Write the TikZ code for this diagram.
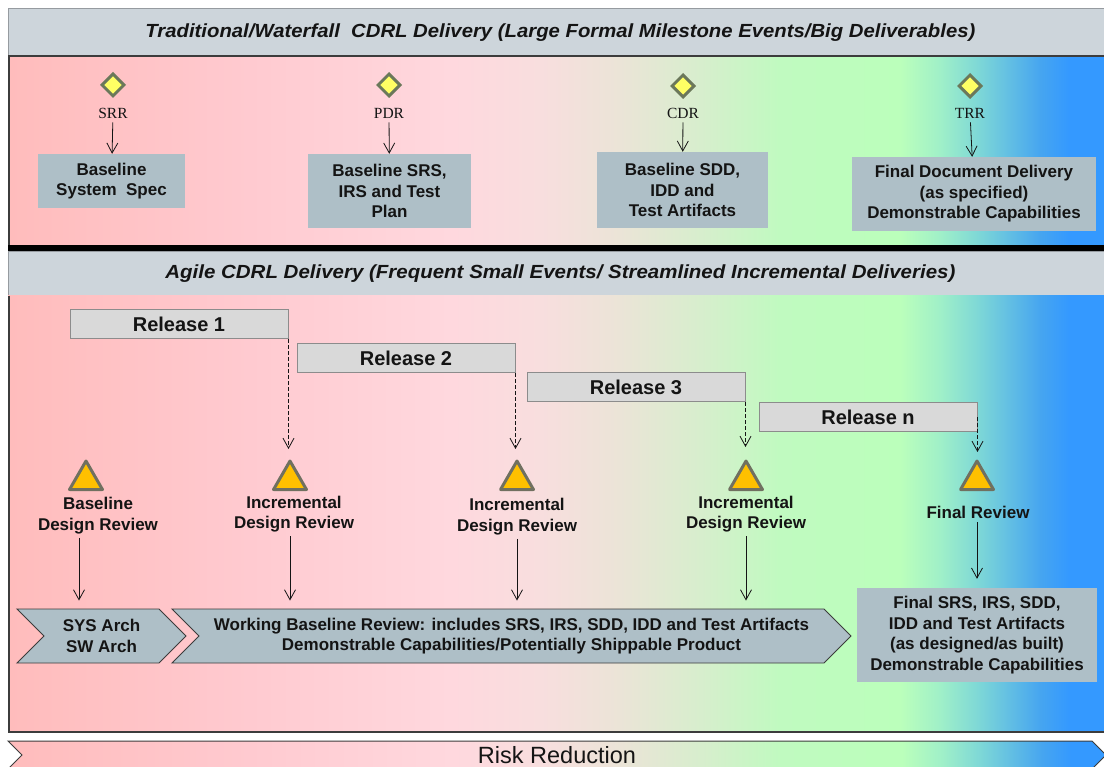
\documentclass[tikz,border=0pt]{standalone}
\usepackage{fontspec}
\setmainfont{Liberation Sans}
\newfontfamily\labelserif{Liberation Serif}
\usetikzlibrary{arrows.meta,shapes.geometric,shapes.symbols}

% colours
\definecolor{hdrfill}{RGB}{205,213,219}
\definecolor{hdredge}{RGB}{150,155,160}
\definecolor{boxfill}{RGB}{174,191,199}
\definecolor{relfill}{RGB}{217,217,217}
\definecolor{reledge}{RGB}{140,140,140}
\definecolor{trifill}{RGB}{255,192,0}
\definecolor{triedge}{RGB}{112,112,96}
\definecolor{diafill}{RGB}{255,255,100}
\definecolor{diaedge}{RGB}{107,120,90}
\definecolor{txt}{RGB}{20,20,20}
\definecolor{frame}{RGB}{60,60,60}

% risk gradient stops (pink -> beige -> green -> blue)
\definecolor{g0}{RGB}{255,188,188}
\definecolor{g1}{RGB}{255,202,208}
\definecolor{g2}{RGB}{255,216,222}
\definecolor{g3}{RGB}{248,222,222}
\definecolor{g4}{RGB}{235,228,215}
\definecolor{g5}{RGB}{215,238,205}
\definecolor{g6}{RGB}{192,250,192}
\definecolor{g7}{RGB}{187,255,187}
\definecolor{g8}{RGB}{160,240,200}
\definecolor{g9}{RGB}{125,215,215}
\definecolor{g10}{RGB}{70,165,240}
\definecolor{g11}{RGB}{52,153,255}
\pgfdeclarehorizontalshading{riskgrad}{100bp}{color(0bp)=(g0); color(25bp)=(g0);
  color(36bp)=(g1); color(45.2bp)=(g2); color(49.3bp)=(g3); color(52.9bp)=(g4);
  color(56.6bp)=(g5); color(60.2bp)=(g6); color(65.7bp)=(g7); color(67.5bp)=(g8);
  color(69.3bp)=(g9); color(72.1bp)=(g10); color(73.4bp)=(g11); color(100bp)=(g11)}

\begin{document}
\begin{tikzpicture}[x=1pt,y=-1pt,
  hdr/.style={fill=hdrfill, draw=hdredge, line width=0.8pt, inner sep=0pt,
    font=\bfseries\itshape\fontsize{19}{22}\selectfont, text=txt},
  milestone/.style={diamond, draw=diaedge, fill=diafill, line width=3pt,
    minimum size=23pt, inner sep=0pt},
  msname/.style={font=\labelserif\fontsize{15.5}{18}\selectfont, text=txt, inner sep=2pt},
  deliv/.style={fill=boxfill, inner sep=0pt, align=center, text=txt,
    font=\bfseries\fontsize{17}{20.5}\selectfont},
  release/.style={fill=relfill, draw=reledge, line width=1pt, inner sep=0pt,
    minimum width=218pt, minimum height=29pt, text=txt,
    font=\bfseries\fontsize{20}{22}\selectfont},
  review/.style={regular polygon, regular polygon sides=3, draw=triedge, fill=trifill,
    line width=3pt, line join=round, minimum size=38pt, inner sep=0pt},
  revname/.style={align=center, text=txt, inner sep=1pt,
    font=\bfseries\fontsize{17}{20.5}\selectfont},
  chev/.style={signal, signal from=west, signal to=east, signal pointer angle=90,
    fill=boxfill, draw=frame, line width=0.9pt, inner sep=0pt, minimum height=54pt,
    align=center, text=txt, font=\bfseries\fontsize{17}{20.5}\selectfont},
  arr/.style={-{Straight Barb[length=10pt,width=11pt]}, line width=0.8pt, draw=txt},
  darr/.style={arr, dash pattern=on 3.5pt off 2.5pt}
]
\useasboundingbox (0,0) rectangle (1104,767);
\fill[white] (0,0) rectangle (1104,767);

% ---------------- traditional / waterfall band ----------------
\node[hdr, minimum width=1096pt, minimum height=48pt, anchor=north west] (h1) at (8,8)
  {\hspace*{8pt}\resizebox{830pt}{\height}{Traditional/Waterfall\ \ CDRL Delivery (Large Formal Milestone Events/Big\ Deliverables)}};
\draw[frame, line width=2.5pt] (8,56) -- (1104,56);
\shade[shading=riskgrad] (8,57.5) rectangle (1104,245);
\draw[frame, line width=1.5pt] (8.75,57) -- (8.75,245);

\node[milestone] (d1) at (113,85) {};
\node[milestone] (d2) at (389,85) {};
\node[milestone] (d3) at (683,86) {};
\node[milestone] (d4) at (970,86) {};
\node[msname] (s1) at (113,113) {SRR};
\node[msname] (s2) at (389,113) {PDR};
\node[msname] (s3) at (683,113) {CDR};
\node[msname] (s4) at (970,113) {TRR};

\node[deliv, minimum width=147pt, minimum height=54pt] (b1) at (111.5,181)
  {Baseline\\System\ \ Spec};
\node[deliv, minimum width=163pt, minimum height=74pt] (b2) at (389.5,191)
  {Baseline SRS,\\IRS and Test\\Plan};
\node[deliv, minimum width=171pt, minimum height=76pt] (b3) at (682.5,190)
  {Baseline SDD,\\IDD and\\Test Artifacts};
\node[deliv, minimum width=244pt, minimum height=74pt] (b4) at (974,194)
  {Final Document Delivery\\(as specified)\\Demonstrable Capabilities};

\draw[arr, shorten <=2pt] (s1) -- (b1);
\draw[arr, shorten <=2pt] (s2) -- (b2);
\draw[arr, shorten <=2pt] (s3) -- (b3);
\draw[arr, shorten <=2pt] (s4) -- (b4);

% separator
\fill[black] (8,245) rectangle (1104,251);

% ---------------- agile band ----------------
\node[hdr, minimum width=1096pt, minimum height=44pt, anchor=north west] (h2) at (8,251)
  {\hspace*{8pt}\resizebox{790pt}{\height}{Agile CDRL Delivery (Frequent Small Events/ Streamlined Incremental Deliveries)}};
\shade[shading=riskgrad] (8,296) rectangle (1104,732);
\draw[frame, line width=1.5pt] (8.75,296) -- (8.75,732) -- (1104,732);

\node[release] (r1) at (179,324.5) {Release 1};
\node[release] (r2) at (406,358.5) {Release 2};
\node[release] (r3) at (636,387.5) {Release 3};
\node[release] (rn) at (868,417.5) {Release n};

\node[review] (t1) at (86,480) {};
\node[review] (t2) at (290,480) {};
\node[review] (t3) at (517,480) {};
\node[review] (t4) at (746,480) {};
\node[review] (t5) at (977,480) {};

\node[revname] (l1) at (98,515.5) {Baseline\\Design Review};
\node[revname] (l2) at (294,514) {Incremental\\Design Review};
\node[revname] (l3) at (517,516.5) {Incremental\\Design Review};
\node[revname] (l4) at (746,514) {Incremental\\Design Review};
\node[revname] (l5) at (978,512) {Final Review};

\draw[darr, shorten >=9pt] (r1.south east) -- (r1.south east |- t2.north);
\draw[darr, shorten >=9pt] (r2.south east) -- (r2.south east |- t3.north);
\draw[darr, shorten >=11pt] (r3.south east) -- (r3.south east |- t4.north);
\draw[darr, shorten >=6pt] (rn.east) -- (rn.east |- t5.north);

\node[chev, minimum width=169pt] (sys) at (101.5,636) {SYS Arch\\SW Arch};
\node[chev, minimum width=679pt] (wb) at (511.5,636)
  {Working Baseline Review: includes SRS, IRS, SDD, IDD and Test Artifacts\\
   Demonstrable Capabilities/Potentially Shippable Product};
\node[deliv, minimum width=240pt, minimum height=94pt] (fin) at (977,635)
  {Final SRS, IRS, SDD,\\IDD and Test Artifacts\\(as designed/as built)\\Demonstrable Capabilities};

% the first review arrow sits a little left of its triangle
\coordinate (a1) at (79,0);
\draw[arr, shorten <=3pt, shorten >=8pt] (l1.south -| a1) -- (a1 |- sys.north);
\draw[arr, shorten <=3pt, shorten >=8pt] (l2.south -| t2) -- (t2 |- wb.north);
\draw[arr, shorten <=3pt, shorten >=8pt] (l3.south -| t3) -- (t3 |- wb.north);
\draw[arr, shorten <=3pt, shorten >=8pt] (l4.south -| t4) -- (t4 |- wb.north);
\draw[arr, shorten <=3pt, shorten >=9pt] (l5.south -| t5) -- (t5 |- fin.north);

% ---------------- risk reduction arrow ----------------
\node[signal, signal from=west, signal to=east, signal pointer angle=90,
  shade, shading=riskgrad, draw=frame, line width=1pt, inner sep=0pt,
  minimum width=1098pt, minimum height=28pt, text=txt,
  font=\fontsize{23.5}{26}\selectfont] (risk) at (557,755) {Risk Reduction};
\end{tikzpicture}
\end{document}
